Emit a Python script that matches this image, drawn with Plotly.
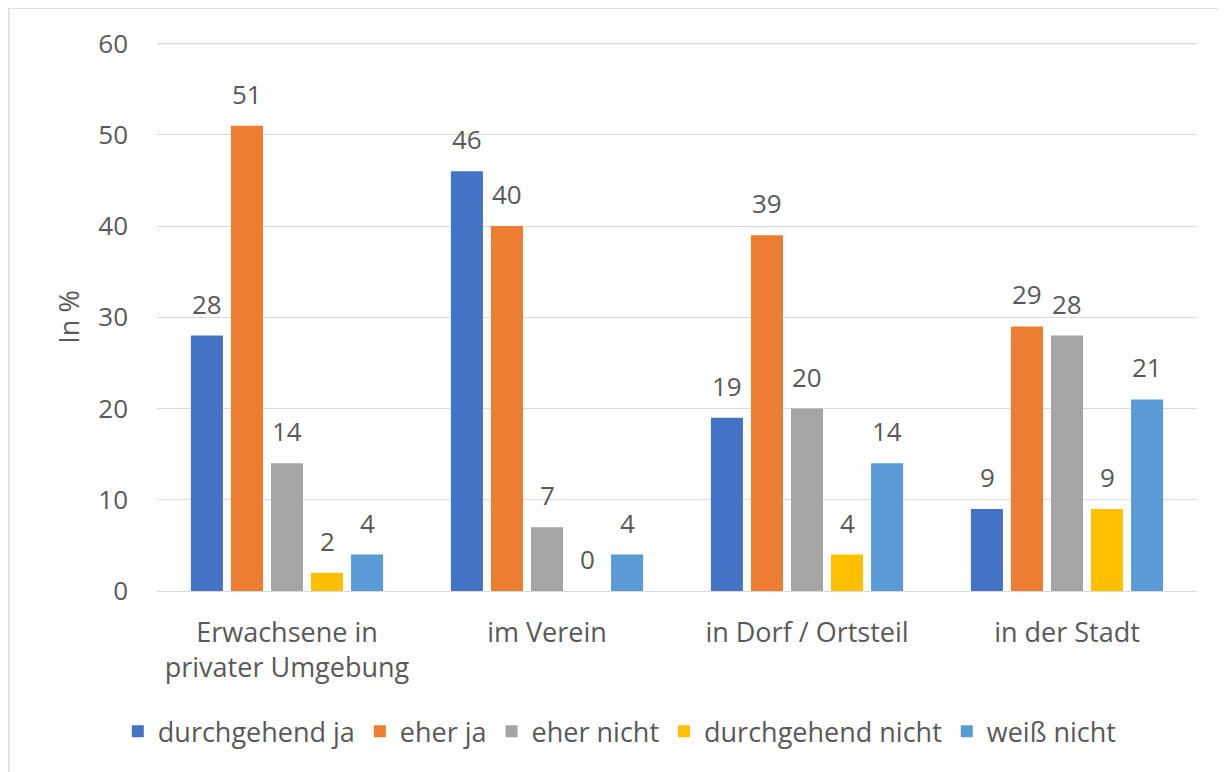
import plotly.graph_objects as go

categories = ["Erwachsene in<br>privater Umgebung", "im Verein", "in Dorf / Ortsteil", "in der Stadt"]
series_names = ["durchgehend ja", "eher ja", "eher nicht", "durchgehend nicht", "weiß nicht"]
durchgehend_ja = [28, 46, 19, 9]
eher_ja = [51, 40, 39, 29]
eher_nicht = [14, 7, 20, 28]
durchgehend_nicht = [2, 0, 4, 9]
weiss_nicht = [4, 4, 14, 21]
colors = ["#4472C4", "#ED7D31", "#A5A5A5", "#FFC000", "#5B9BD5"]
y_ticks = [0, 10, 20, 30, 40, 50, 60]

all_series = [durchgehend_ja, eher_ja, eher_nicht, durchgehend_nicht, weiss_nicht]
FONT = "Open Sans"
TXT = "#595959"
GRID = "#D9D9D9"

fig = go.Figure()
annotations = []
for i, (name, vals, col) in enumerate(zip(series_names, all_series, colors)):
    fig.add_trace(go.Bar(x=categories, y=vals, name=name, marker_color=col,
                         marker_line_width=0))
    for c, v in zip(categories, vals):
        annotations.append(dict(x=c, y=v, text=str(v), showarrow=False,
                                xref="x", yref="y", yanchor="bottom",
                                xshift=(i - 2) * 40, yshift=12,
                                font=dict(family=FONT, size=26, color=TXT)))

# page body has an 8px margin, so the figure starts at (8, 8)
PLOT_W, PLOT_H = 1040, 548
shapes = [dict(type="rect", xref="paper", yref="paper",
               x0=(1 - 149) / PLOT_W, x1=1.1,
               y0=-0.4, y1=1 + 35 / PLOT_H,
               line=dict(color=GRID, width=1.5),
               fillcolor="rgba(0,0,0,0)", layer="below"),
          dict(type="line", xref="paper", yref="y", x0=0, x1=1,
               y0=y_ticks[-1], y1=y_ticks[-1],
               line=dict(color=GRID, width=1.2), layer="below")]

fig.update_layout(
    width=1218, height=764,
    margin=dict(l=149, r=29, t=35, b=181),
    paper_bgcolor="white", plot_bgcolor="white",
    barmode="group", bargap=0.23, bargroupgap=0.2,
    font=dict(family=FONT, size=26, color=TXT),
    showlegend=True,
    legend=dict(orientation="h", x=0.445, xanchor="center", y=-0.212, yanchor="top",
                font=dict(family=FONT, size=27, color=TXT),
                itemwidth=30, tracegroupgap=0, itemsizing="constant"),
    annotations=annotations,
    shapes=shapes,
)
fig.update_yaxes(range=[0, 60.06], tickvals=y_ticks, showgrid=True, gridcolor=GRID,
                 gridwidth=1.2, zeroline=True, zerolinecolor=GRID, zerolinewidth=1.2,
                 showline=False, ticks="", ticklabelstandoff=28, automargin=False,
                 tickfont=dict(family=FONT, size=26, color=TXT),
                 title=dict(text="In %", standoff=10, font=dict(family=FONT, size=27, color=TXT)))
fig.update_xaxes(showline=False, ticks="", ticklabelstandoff=23, automargin=False,
                 tickfont=dict(family=FONT, size=27, color=TXT))

fig.write_html("out.html")
